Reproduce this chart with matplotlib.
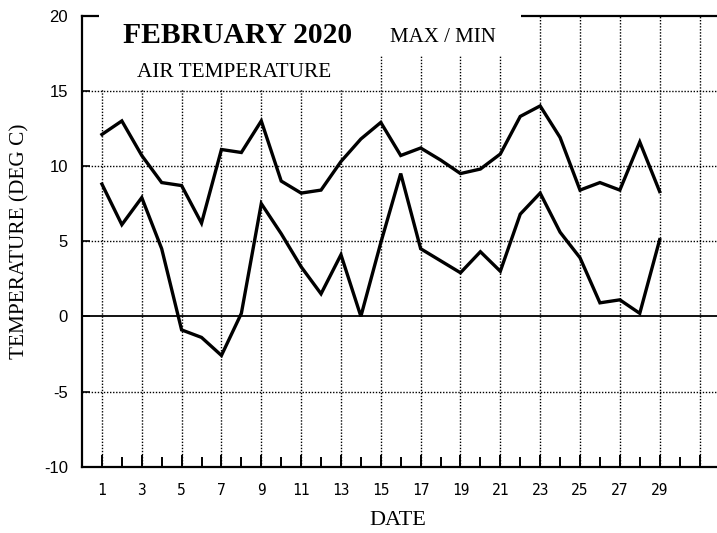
import matplotlib
matplotlib.use("Agg")
import matplotlib.pyplot as plt
from matplotlib.patches import Rectangle
from matplotlib.ticker import FixedLocator, NullFormatter

# Daily air temperature, February 2020 (deg C)
days = list(range(1, 30))
max_temp = [12.1, 13.0, 10.7, 8.9, 8.7, 6.2, 11.1, 10.9, 13.0, 9.0,
            8.2, 8.4, 10.3, 11.8, 12.9, 10.7, 11.2, 10.4, 9.5, 9.8,
            10.8, 13.3, 14.0, 11.9, 8.4, 8.9, 8.4, 11.6, 8.3]
min_temp = [8.8, 6.1, 7.9, 4.5, -0.9, -1.4, -2.6, 0.2, 7.5, 5.5,
            3.3, 1.5, 4.1, 0.0, 4.9, 9.5, 4.5, 3.7, 2.9, 4.3,
            3.0, 6.8, 8.2, 5.6, 3.9, 0.9, 1.1, 0.2, 5.1]

x_major = list(range(1, 32, 2))
x_minor = list(range(2, 32, 2))
x_labels = [str(d) for d in range(1, 30, 2)] + [""]
y_ticks = [-10, -5, 0, 5, 10, 15, 20]
y_grid = [-5, 5, 10, 15]

W, H = 717, 533
fig = plt.figure(figsize=(W / 100, H / 100), dpi=100)
plt.rcParams["axes.unicode_minus"] = False

# axes box in pixel terms
L, R, T, B = 82.0, 717.0, 15.7, 466.7
ax = fig.add_axes([L / W, 1 - B / H, (R - L) / W, (B - T) / H])
ax.set_xlim(0, (R - L) / 19.92)
ax.set_ylim(-10, 20)

ax.spines["right"].set_visible(False)
for side in ("left", "bottom", "top"):
    ax.spines[side].set_linewidth(1.6)
    ax.spines[side].set_zorder(4)

# dotted grid
dot = dict(color="black", linewidth=1.0, linestyle=(0, (1, 1.2)), zorder=1)
for xv in x_major:
    ax.axvline(xv, **dot)
for yv in y_grid:
    ax.axhline(yv, **dot)
ax.axhline(0, color="black", linewidth=1.3, zorder=1.5)

ax.plot(days, max_temp, color="black", linewidth=2.4, zorder=2,
        solid_joinstyle="miter")
ax.plot(days, min_temp, color="black", linewidth=2.4, zorder=2,
        solid_joinstyle="miter")

ax.xaxis.set_major_locator(FixedLocator(x_major))
ax.xaxis.set_minor_locator(FixedLocator(x_minor))
ax.set_xticklabels(x_labels)
ax.xaxis.set_minor_formatter(NullFormatter())
ax.tick_params(axis="x", which="major", direction="in", length=8.5, width=1.4,
               pad=12, labelsize=10.5)
ax.tick_params(axis="x", which="minor", direction="in", length=7, width=1.4)
for lab in ax.get_xticklabels():
    lab.set_fontfamily("DejaVu Sans Mono")

ax.set_yticks(y_ticks)
ax.tick_params(axis="y", which="major", direction="in", length=6, width=1.2,
               pad=10, labelsize=12)
for lab in ax.get_yticklabels():
    lab.set_fontfamily("Liberation Sans")

# white panels behind the heading text
def px_box(x0, y0, x1, y1):
    ax0 = (x0 - L) / (R - L)
    ax1 = (x1 - L) / (R - L)
    ay0 = (B - y1) / (B - T)
    ay1 = (B - y0) / (B - T)
    ax.add_patch(Rectangle((ax0, ay0), ax1 - ax0, ay1 - ay0,
                           transform=ax.transAxes, facecolor="white",
                           edgecolor="none", zorder=4.5, clip_on=False))

px_box(99, 5, 521, 56)
px_box(99, 56, 356, 90)

serif = "Liberation Serif"
def ftext(px, py, s, **kw):
    fig.text(px / W, 1 - py / H, s, family=serif, zorder=6, **kw)

ftext(122.7, 43.3, "FEBRUARY 2020", fontsize=21.3, fontweight="bold",
      ha="left", va="baseline")
ftext(390, 41.7, "MAX / MIN", fontsize=15, ha="left", va="baseline")
ftext(137.3, 76.7, "AIR TEMPERATURE", fontsize=15.3, ha="left", va="baseline")
ftext(20, 241.5, "TEMPERATURE (DEG C)", fontsize=15.3, rotation=90,
      ha="center", va="center")
ftext(398, 525, "DATE", fontsize=16, ha="center", va="baseline")

fig.savefig("out.png", dpi=100)
